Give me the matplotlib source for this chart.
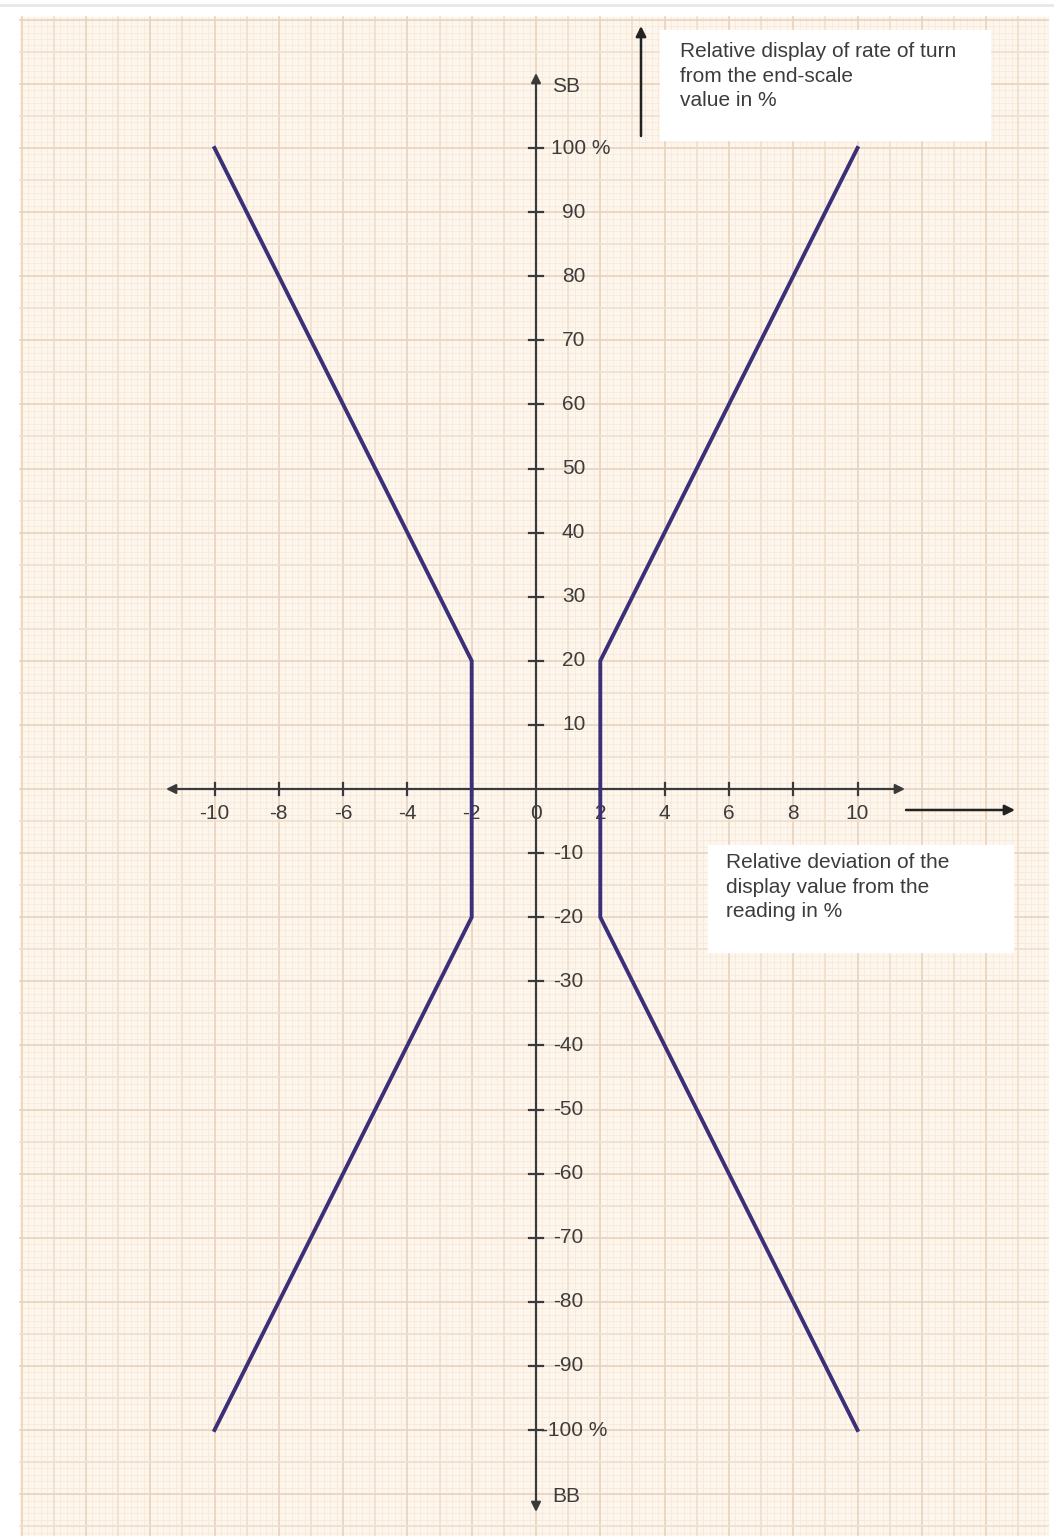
import numpy as np
import matplotlib.pyplot as plt

plt.rcParams['font.family'] = ['Liberation Sans', 'DejaVu Sans']

# tolerance envelope: relative deviation (x, %) vs relative display (y, %)
right_x = [10, 2, 2, 10]
right_y = [100, 20, -20, -100]
left_x = [-10, -2, -2, -10]
left_y = [100, 20, -20, -100]

x_ticks = [-10, -8, -6, -4, -2, 0, 2, 4, 6, 8, 10]
y_ticks = [100, 90, 80, 70, 60, 50, 40, 30, 20, 10, -10, -20, -30, -40, -50, -60, -70, -80, -90, -100]
y_tick_labels = ['100 %', '90', '80', '70', '60', '50', '40', '30', '20', '10',
                 '-10', '-20', '-30', '-40', '-50', '-60', '-70', '-80', '-90', '-100 %']

y_title = 'Relative display of rate of turn\nfrom the end-scale\nvalue in %'
x_title = 'Relative deviation of the\ndisplay value from the\nreading in %'

W, H = 1054, 1537
fig = plt.figure(figsize=(W / 100, H / 100), dpi=100)
ax = fig.add_axes([0, 0, 1, 1])

# pixel -> data mapping: x=0 at px 536, 32.15 px/unit; y=0 at px 789, 6.41 px/unit
x0, sx = 536, 32.15
y0, sy = 789, 6.41
ax.set_xlim(-x0 / sx, (W - x0) / sx)
ax.set_ylim((y0 - H) / sy, y0 / sy)
ax.axis('off')

def px(x):
    return (x - x0) / sx

def py(y):
    return (y0 - y) / sy

# graph paper
gx0, gx1 = px(20), px(1048)
gy0, gy1 = py(1535), py(17)
ax.fill_between([gx0, gx1], gy0, gy1, color='#fdf6ed', zorder=0)
ax.plot([px(0), px(W)], [py(5), py(5)], color='#e8e8e8', lw=2, zorder=0)

fine_x = np.arange(np.ceil(gx0 / 0.2) * 0.2, gx1, 0.2)
fine_y = np.arange(np.ceil(gy0), gy1, 1.0)
for v in fine_x:
    ax.plot([v, v], [gy0, gy1], color='#f8e9da', lw=0.6, zorder=0.5)
for v in fine_y:
    ax.plot([gx0, gx1], [v, v], color='#f8e9da', lw=0.6, zorder=0.5)
for v in np.arange(np.ceil(gx0), gx1, 1.0):
    c = '#ead3bd' if round(v) % 2 == 0 else '#f1dfcd'
    ax.plot([v, v], [gy0, gy1], color=c, lw=1.2, zorder=0.6)
for v in np.arange(np.ceil(gy0 / 5) * 5, gy1, 5.0):
    c = '#ead3bd' if round(v) % 10 == 0 else '#f1dfcd'
    ax.plot([gx0, gx1], [v, v], color=c, lw=1.2, zorder=0.6)

axis_col = '#3a3a3a'
text_col = '#3c3c3c'
fs = 15

# x axis (double arrow)
ax.annotate('', xy=(px(166), 0), xytext=(px(905), 0),
            arrowprops=dict(arrowstyle='<|-|>', color=axis_col, lw=1.6,
                            mutation_scale=14, shrinkA=0, shrinkB=0), zorder=3)
# y axis (double arrow)
ax.annotate('', xy=(0, py(73)), xytext=(0, py(1512)),
            arrowprops=dict(arrowstyle='<|-|>', color=axis_col, lw=1.6,
                            mutation_scale=14, shrinkA=0, shrinkB=0), zorder=3)

for v in x_ticks:
    if v != 0:
        ax.plot([v, v], [-1.0, 1.0], color=axis_col, lw=1.6, zorder=3)
    ax.text(v, py(813), str(v), ha='center', va='center', fontsize=fs, color=text_col, zorder=4)

for v, lab in zip(y_ticks, y_tick_labels):
    ax.plot([-0.22, 0.22], [v, v], color=axis_col, lw=1.6, zorder=3)
    if lab.endswith('%'):
        xl = px(551) if v > 0 else px(541)
    else:
        xl = px(562) if v > 0 else px(553)
    ax.text(xl, v, lab, ha='left', va='center', fontsize=fs, color=text_col, zorder=4)

ax.text(px(552), py(86), 'SB', ha='left', va='center', fontsize=fs, color=text_col, zorder=4)
ax.text(px(552), py(1497), 'BB', ha='left', va='center', fontsize=fs, color=text_col, zorder=4)

# envelope
ax.plot(left_x, left_y, color='#3b2f78', lw=2.8, solid_joinstyle='miter', zorder=5)
ax.plot(right_x, right_y, color='#3b2f78', lw=2.8, solid_joinstyle='miter', zorder=5)

# annotation boxes
ax.fill_between([px(660), px(990)], py(140), py(30), color='white', zorder=2)
ax.fill_between([px(708), px(1013)], py(952), py(845), color='white', zorder=2)
ax.text(px(680), py(42), y_title, ha='left', va='top', fontsize=fs, color=text_col,
        linespacing=1.38, zorder=4)
ax.text(px(726), py(853), x_title, ha='left', va='top', fontsize=fs, color=text_col,
        linespacing=1.38, zorder=4)

ax.annotate('', xy=(px(641), py(26)), xytext=(px(641), py(136)),
            arrowprops=dict(arrowstyle='-|>', color='#222222', lw=1.8,
                            mutation_scale=15, shrinkA=0, shrinkB=0), zorder=4)
ax.annotate('', xy=(px(1015), py(810)), xytext=(px(906), py(810)),
            arrowprops=dict(arrowstyle='-|>', color='#222222', lw=1.8,
                            mutation_scale=15, shrinkA=0, shrinkB=0), zorder=4)

fig.savefig('out.png', dpi=100, facecolor='white')
